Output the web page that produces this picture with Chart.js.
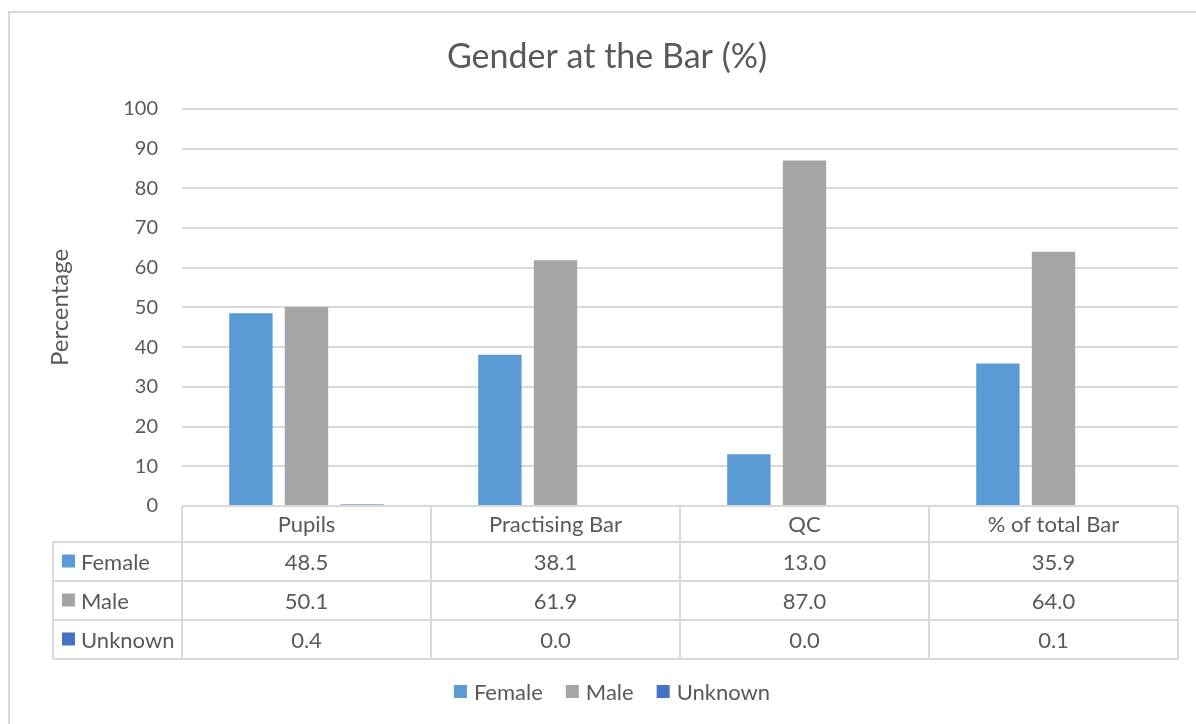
<!DOCTYPE html>
<html>
<head>
<meta charset="utf-8">
<script src="https://cdn.jsdelivr.net/npm/chart.js@4.4.1/dist/chart.umd.min.js"></script>
<style>
  body { margin: 0; background: #fff; }
</style>
</head>
<body>
<canvas id="genderChart" width="1196" height="724"></canvas>
<script>
var categories = ['Pupils', 'Practising Bar', 'QC', '% of total Bar'];
var female = [48.5, 38.1, 13.0, 35.9];
var male = [50.1, 61.9, 87.0, 64.0];
var unknown = [0.4, 0.0, 0.0, 0.1];
var seriesNames = ['Female', 'Male', 'Unknown'];
var seriesColors = ['#5B9BD5', '#A5A5A5', '#4472C4'];

var FONT = 'Lato, "Liberation Sans", sans-serif';
var TEXT = '#595959';
var LINE = '#d9d9d9';

// data table under the plot + legend + outer frame
var tablePlugin = {
    id: 'dataTable',
    afterDraw: function(chart) {
        var ctx = chart.ctx;
        var area = chart.chartArea;
        var colW = (area.right - area.left) / categories.length;
        var headerH = 36, rowH = 39;
        var tableLeft = 53;
        var rowTops = [area.bottom + headerH, area.bottom + headerH + rowH, area.bottom + headerH + rowH * 2];
        var tableBottom = area.bottom + headerH + rowH * 3;
        var allSeries = [female, male, unknown];

        ctx.save();
        ctx.strokeStyle = LINE;
        ctx.lineWidth = 2;
        ctx.beginPath();
        // outer frame (left + top)
        ctx.moveTo(9, 724); ctx.lineTo(9, 12); ctx.lineTo(1196, 12);
        // header row
        ctx.moveTo(area.left, area.bottom); ctx.lineTo(area.right, area.bottom);
        for (var r = 0; r < rowTops.length; r++) {
            ctx.moveTo(tableLeft, rowTops[r]); ctx.lineTo(area.right, rowTops[r]);
        }
        ctx.moveTo(tableLeft, tableBottom); ctx.lineTo(area.right, tableBottom);
        ctx.moveTo(tableLeft, rowTops[0]); ctx.lineTo(tableLeft, tableBottom);
        for (var c = 0; c <= categories.length; c++) {
            var x = area.left + colW * c;
            ctx.moveTo(x, area.bottom); ctx.lineTo(x, tableBottom);
        }
        ctx.stroke();

        ctx.fillStyle = TEXT;
        ctx.font = '22px ' + FONT;
        ctx.textAlign = 'center';
        ctx.textBaseline = 'middle';
        for (var i = 0; i < categories.length; i++) {
            var cx = chart.scales.x.getPixelForValue(i);
            ctx.fillText(categories[i], cx, area.bottom + headerH / 2 + 1);
            for (var s = 0; s < allSeries.length; s++) {
                ctx.fillText(allSeries[s][i].toFixed(1), cx, rowTops[s] + rowH / 2 + 1);
            }
        }
        ctx.textAlign = 'left';
        for (var s2 = 0; s2 < seriesNames.length; s2++) {
            var y = rowTops[s2] + rowH / 2;
            ctx.fillStyle = seriesColors[s2];
            ctx.fillRect(62, y - 7, 13, 13);
            ctx.fillStyle = TEXT;
            ctx.fillText(seriesNames[s2], 81, y + 1);
        }

        // legend
        var legendY = 692;
        var gap = 23, box = 13;
        var widths = seriesNames.map(function(n) { return box + 7 + ctx.measureText(n).width; });
        var total = widths.reduce(function(a, b) { return a + b; }, 0) + gap * (widths.length - 1);
        var lx = 612 - total / 2;
        for (var k = 0; k < seriesNames.length; k++) {
            ctx.fillStyle = seriesColors[k];
            ctx.fillRect(lx, legendY - 7, box, box);
            ctx.fillStyle = TEXT;
            ctx.fillText(seriesNames[k], lx + box + 7, legendY + 1);
            lx += widths[k] + gap;
        }
        ctx.restore();
    }
};

var ctx = document.getElementById('genderChart').getContext('2d');
var chart = new Chart(ctx, {
    type: 'bar',
    data: {
        labels: categories,
        datasets: [
            { label: seriesNames[0], data: female, backgroundColor: seriesColors[0] },
            { label: seriesNames[1], data: male, backgroundColor: seriesColors[1] },
            { label: seriesNames[2], data: unknown, backgroundColor: seriesColors[2] }
        ]
    },
    options: {
        responsive: false,
        animation: false,
        categoryPercentage: 0.67,
        barPercentage: 0.78,
        layout: { padding: { left: 36, right: 18, top: 0, bottom: 218 } },
        plugins: {
            legend: { display: false },
            tooltip: { enabled: false },
            title: {
                display: true,
                text: 'Gender at the Bar (%)',
                color: TEXT,
                font: { family: FONT, size: 34, weight: 'normal' },
                padding: { top: 37, bottom: 31 }
            }
        },
        scales: {
            x: { display: false },
            y: {
                min: 0,
                max: 100,
                ticks: { stepSize: 10, color: TEXT, font: { family: FONT, size: 20 }, padding: 24 },
                grid: { color: LINE, lineWidth: 2, drawTicks: false },
                border: { display: false },
                title: {
                    display: true,
                    text: 'Percentage',
                    color: TEXT,
                    font: { family: FONT, size: 24 },
                    padding: { top: 10 }
                },
                afterFit: function(scale) { scale.width = 146; }
            }
        }
    },
    plugins: [tablePlugin]
});
</script>
</body>
</html>
